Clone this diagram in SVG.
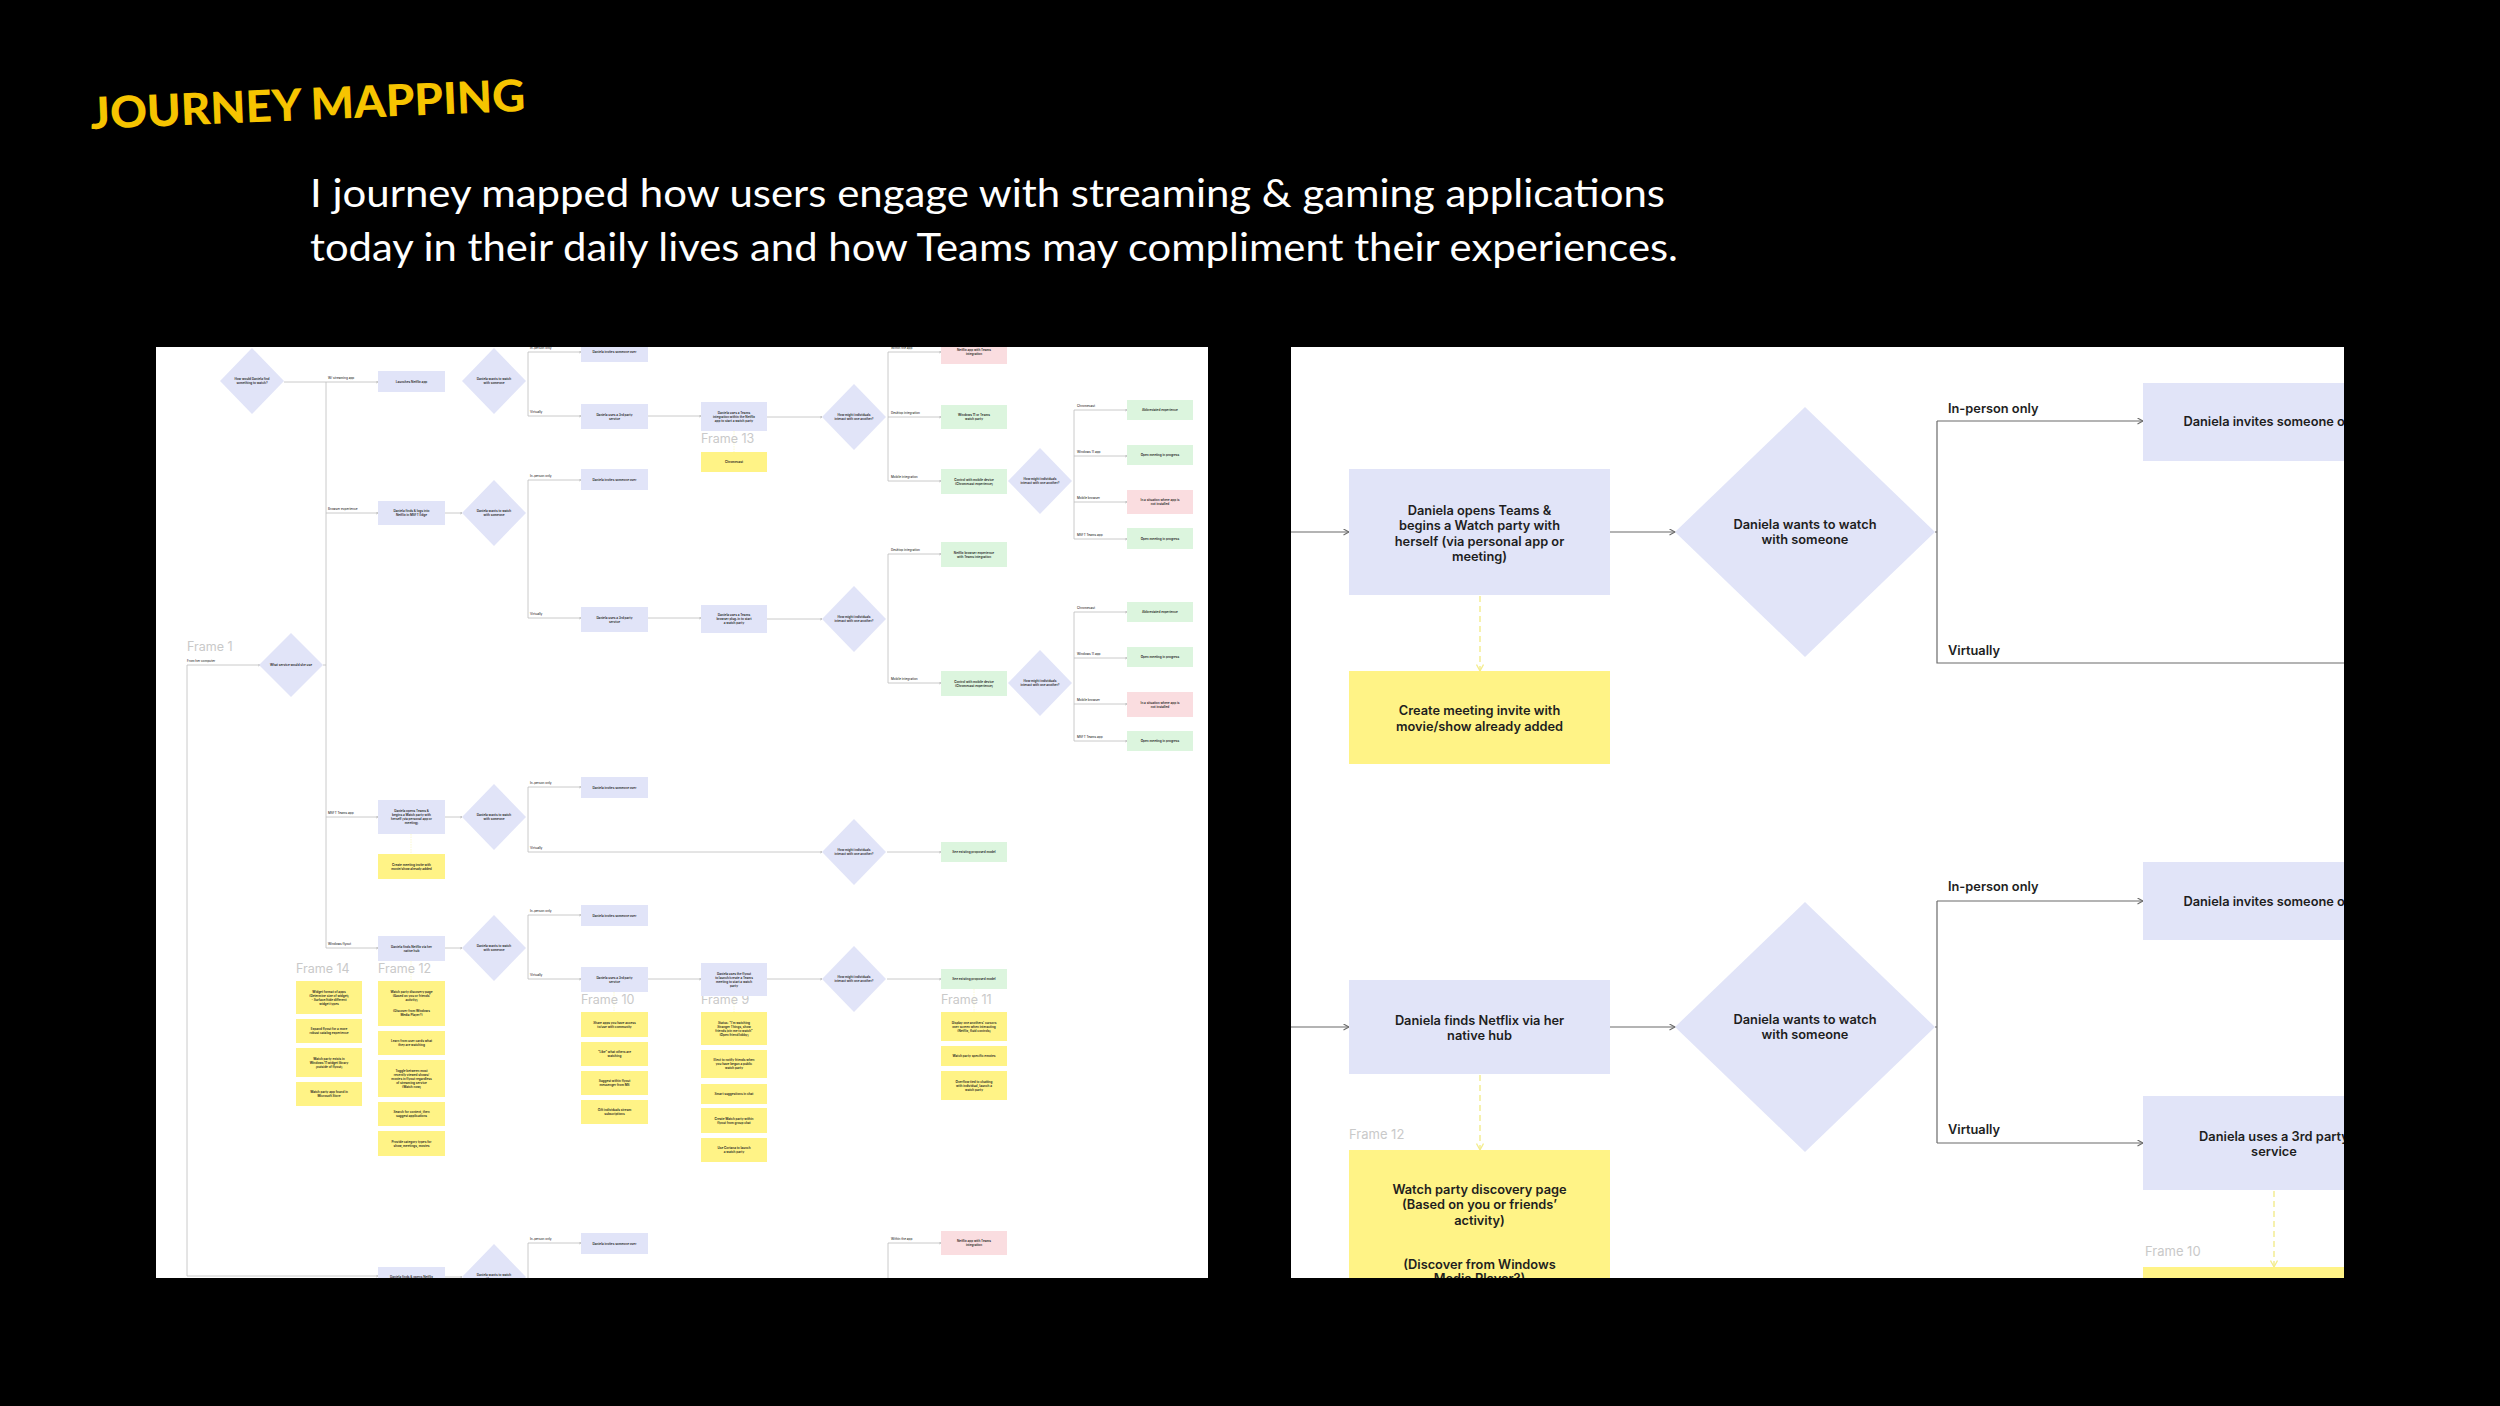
<svg xmlns="http://www.w3.org/2000/svg" width="2500" height="1406" viewBox="0 0 2500 1406">
<style>
.lav{fill:#E1E4F8}.yel{fill:#FFF386}.grn{fill:#DCF5DE}.pnk{fill:#FADDE0}
.t{font-family:Inter,"Liberation Sans",sans-serif;font-weight:600;font-size:3.1px;fill:#222;text-anchor:middle}
.tl{font-family:Inter,"Liberation Sans",sans-serif;font-weight:500;font-size:3.1px;fill:#333}
.c{fill:none;stroke:#bdbdbd;stroke-width:0.8}
.cd{fill:none;stroke:#F6F0A0;stroke-width:0.5;stroke-dasharray:1.5 1}
.fr{font-family:Inter,"Liberation Sans",sans-serif;font-size:12.5px;fill:#c9c9c9}
.T{font-family:Inter,"Liberation Sans",sans-serif;font-weight:600;font-size:12.8px;fill:#1e1e1e;text-anchor:middle}
.TL{font-family:Inter,"Liberation Sans",sans-serif;font-weight:600;font-size:12.8px;fill:#1e1e1e}
.C{fill:none;stroke:#6b6b6b;stroke-width:1.2}
.D{fill:none;stroke:#F3EC8C;stroke-width:1.4;stroke-dasharray:6 4}
</style>
<defs>
<clipPath id="cl"><rect x="156" y="347" width="1052" height="931"/></clipPath>
<clipPath id="cr"><rect x="1291" y="347" width="1053" height="931"/></clipPath>
<marker id="al" markerUnits="userSpaceOnUse" markerWidth="3" markerHeight="3" refX="2" refY="1.2" orient="auto"><path d="M0,0 L2,1.2 L0,2.4" fill="none" stroke="#999" stroke-width="0.4"/></marker>
<marker id="ar" markerUnits="userSpaceOnUse" markerWidth="8" markerHeight="8" refX="6" refY="3.5" orient="auto"><path d="M0.5,0.5 L6,3.5 L0.5,6.5" fill="none" stroke="#6b6b6b" stroke-width="1.1"/></marker>
<marker id="ay" markerUnits="userSpaceOnUse" markerWidth="10" markerHeight="8" refX="7" refY="4" orient="auto"><path d="M0.5,0.5 L7,4 L0.5,7.5" fill="none" stroke="#F3EC8C" stroke-width="1.3"/></marker>
</defs>
<rect width="2500" height="1406" fill="#000"/>
<g id="title">
<text x="91" y="129" transform="rotate(-2.4 91 129)" font-family="Lato, 'Liberation Sans', sans-serif" font-weight="900" font-size="44" fill="#F6C400" textLength="435" lengthAdjust="spacingAndGlyphs">JOURNEY MAPPING</text>
</g>
<g id="subtitle" font-family="Lato, 'Open Sans', sans-serif" font-size="39" fill="#fff">
<text x="310" y="207" textLength="1355" lengthAdjust="spacingAndGlyphs">I journey mapped how users engage with streaming &amp; gaming applications</text>
<text x="310" y="261" textLength="1368" lengthAdjust="spacingAndGlyphs">today in their daily lives and how Teams may compliment their experiences.</text>
</g>

<!-- LEFT PANEL -->
<g id="left-panel" clip-path="url(#cl)">
<rect x="156" y="347" width="1052" height="931" fill="#fff"/>
<g id="left-connectors">
<path class="c" d="M284,382H378" marker-end="url(#al)"/>
<path class="c" d="M326,382V948"/>
<path class="c" d="M326,513H378" marker-end="url(#al)"/>
<path class="c" d="M323,665H326"/>
<path class="c" d="M326,817H378" marker-end="url(#al)"/>
<path class="c" d="M326,948H378" marker-end="url(#al)"/>
<path class="c" d="M187,665H260" marker-end="url(#al)"/>
<path class="c" d="M187,665V1276H378" marker-end="url(#al)"/>
<path class="c" d="M445,513H462" marker-end="url(#al)"/>
<path class="c" d="M445,817H462" marker-end="url(#al)"/>
<path class="c" d="M445,948H462" marker-end="url(#al)"/>
<path class="c" d="M445,1277H462" marker-end="url(#al)"/>
<path class="c" d="M528,352V416"/>
<path class="c" d="M528,352H581" marker-end="url(#al)"/>
<path class="c" d="M528,416H581" marker-end="url(#al)"/>
<path class="c" d="M528,480V618"/>
<path class="c" d="M528,480H581" marker-end="url(#al)"/>
<path class="c" d="M528,618H581" marker-end="url(#al)"/>
<path class="c" d="M528,787V852"/>
<path class="c" d="M528,787H581" marker-end="url(#al)"/>
<path class="c" d="M528,852H822" marker-end="url(#al)"/>
<path class="c" d="M528,915V979"/>
<path class="c" d="M528,915H581" marker-end="url(#al)"/>
<path class="c" d="M528,979H581" marker-end="url(#al)"/>
<path class="c" d="M528,1243V1290"/>
<path class="c" d="M528,1243H581" marker-end="url(#al)"/>
<path class="c" d="M648,416H701" marker-end="url(#al)"/>
<path class="c" d="M648,618H701" marker-end="url(#al)"/>
<path class="c" d="M648,979H701" marker-end="url(#al)"/>
<path class="c" d="M767,417H822" marker-end="url(#al)"/>
<path class="c" d="M767,619H822" marker-end="url(#al)"/>
<path class="c" d="M767,979H822" marker-end="url(#al)"/>
<path class="c" d="M888,352V481"/>
<path class="c" d="M888,352H941" marker-end="url(#al)"/>
<path class="c" d="M888,417H941" marker-end="url(#al)"/>
<path class="c" d="M888,481H941" marker-end="url(#al)"/>
<path class="c" d="M888,554V683"/>
<path class="c" d="M888,554H941" marker-end="url(#al)"/>
<path class="c" d="M888,683H941" marker-end="url(#al)"/>
<path class="c" d="M1074,410V539"/>
<path class="c" d="M1074,410H1127" marker-end="url(#al)"/>
<path class="c" d="M1074,456H1127" marker-end="url(#al)"/>
<path class="c" d="M1074,502H1127" marker-end="url(#al)"/>
<path class="c" d="M1074,539H1127" marker-end="url(#al)"/>
<path class="c" d="M1074,612V741"/>
<path class="c" d="M1074,612H1127" marker-end="url(#al)"/>
<path class="c" d="M1074,658H1127" marker-end="url(#al)"/>
<path class="c" d="M1074,704H1127" marker-end="url(#al)"/>
<path class="c" d="M1074,741H1127" marker-end="url(#al)"/>
<path class="c" d="M887,852H941" marker-end="url(#al)"/>
<path class="c" d="M887,979H941" marker-end="url(#al)"/>
<path class="c" d="M888,1243V1290"/>
<path class="c" d="M888,1243H941" marker-end="url(#al)"/>
<path class="cd" d="M411,834V854"/>
<path class="cd" d="M734,431V452"/>
<path class="cd" d="M411,961V981"/>
<path class="cd" d="M614,992V1012"/>
<path class="cd" d="M734,996V1012"/>
<path class="cd" d="M974,989V1012"/>
</g>
<g id="left-labels">
<text class="tl" x="328" y="379">W/ streaming app</text>
<text class="tl" x="328" y="510">Browser experience</text>
<text class="tl" x="328" y="814">MSFT Teams app</text>
<text class="tl" x="328" y="945">Windows flyout</text>
<text class="tl" x="187" y="662">From her computer</text>
<text class="tl" x="530" y="349">In-person only</text>
<text class="tl" x="530" y="477">In-person only</text>
<text class="tl" x="530" y="784">In-person only</text>
<text class="tl" x="530" y="912">In-person only</text>
<text class="tl" x="530" y="1240">In-person only</text>
<text class="tl" x="530" y="413">Virtually</text>
<text class="tl" x="530" y="615">Virtually</text>
<text class="tl" x="530" y="849">Virtually</text>
<text class="tl" x="530" y="976">Virtually</text>
<text class="tl" x="891" y="349">Within the app</text>
<text class="tl" x="891" y="1240">Within the app</text>
<text class="tl" x="891" y="414">Desktop integration</text>
<text class="tl" x="891" y="551">Desktop integration</text>
<text class="tl" x="891" y="478">Mobile integration</text>
<text class="tl" x="891" y="680">Mobile integration</text>
<text class="tl" x="1077" y="407">Chromecast</text>
<text class="tl" x="1077" y="609">Chromecast</text>
<text class="tl" x="1077" y="453">Windows 11 app</text>
<text class="tl" x="1077" y="655">Windows 11 app</text>
<text class="tl" x="1077" y="499">Mobile browser</text>
<text class="tl" x="1077" y="701">Mobile browser</text>
<text class="tl" x="1077" y="536">MSFT Teams app</text>
<text class="tl" x="1077" y="738">MSFT Teams app</text>
<text class="fr" x="187" y="651">Frame 1</text>
<text class="fr" x="701" y="443">Frame 13</text>
<text class="fr" x="296" y="973">Frame 14</text>
<text class="fr" x="378" y="973">Frame 12</text>
<text class="fr" x="581" y="1004">Frame 10</text>
<text class="fr" x="701" y="1004">Frame 9</text>
<text class="fr" x="941" y="1004">Frame 11</text>
</g>
<!-- diamonds -->
<g id="ld1"><path class="lav" d="M220,381L252,348L284,381L252,414Z"/><text class="t"><tspan x="252" y="380.1">How would Daniela find</tspan><tspan x="252" y="384.1">something to watch?</tspan></text></g>
<g id="ld2"><path class="lav" d="M462,381L494,348L526,381L494,414Z"/><text class="t"><tspan x="494" y="380.1">Daniela wants to watch</tspan><tspan x="494" y="384.1">with someone</tspan></text></g>
<g id="ld3"><path class="lav" d="M462,513L494,480L526,513L494,546Z"/><text class="t"><tspan x="494" y="512.1">Daniela wants to watch</tspan><tspan x="494" y="516.1">with someone</tspan></text></g>
<g id="ld4"><path class="lav" d="M259,665L291,633L323,665L291,697Z"/><text class="t" x="291" y="666.1">What service would she use</text></g>
<g id="ld5"><path class="lav" d="M462,817L494,784L526,817L494,850Z"/><text class="t"><tspan x="494" y="816.1">Daniela wants to watch</tspan><tspan x="494" y="820.1">with someone</tspan></text></g>
<g id="ld6"><path class="lav" d="M462,948L494,915L526,948L494,981Z"/><text class="t"><tspan x="494" y="947.1">Daniela wants to watch</tspan><tspan x="494" y="951.1">with someone</tspan></text></g>
<g id="ld7"><path class="lav" d="M462,1277L494,1244L526,1277L494,1310Z"/><text class="t"><tspan x="494" y="1276.1">Daniela wants to watch</tspan><tspan x="494" y="1280.1">with someone</tspan></text></g>
<g id="ld8"><path class="lav" d="M822,417L854,384L886,417L854,450Z"/><text class="t"><tspan x="854" y="416.1">How might individuals</tspan><tspan x="854" y="420.1">interact with one another?</tspan></text></g>
<g id="ld9"><path class="lav" d="M1008,481L1040,448L1072,481L1040,514Z"/><text class="t"><tspan x="1040" y="480.1">How might individuals</tspan><tspan x="1040" y="484.1">interact with one another?</tspan></text></g>
<g id="ld10"><path class="lav" d="M822,619L854,586L886,619L854,652Z"/><text class="t"><tspan x="854" y="618.1">How might individuals</tspan><tspan x="854" y="622.1">interact with one another?</tspan></text></g>
<g id="ld11"><path class="lav" d="M1008,683L1040,650L1072,683L1040,716Z"/><text class="t"><tspan x="1040" y="682.1">How might individuals</tspan><tspan x="1040" y="686.1">interact with one another?</tspan></text></g>
<g id="ld12"><path class="lav" d="M822,852L854,819L886,852L854,885Z"/><text class="t"><tspan x="854" y="851.1">How might individuals</tspan><tspan x="854" y="855.1">interact with one another?</tspan></text></g>
<g id="ld13"><path class="lav" d="M822,979L854,946L886,979L854,1012Z"/><text class="t"><tspan x="854" y="978.1">How might individuals</tspan><tspan x="854" y="982.1">interact with one another?</tspan></text></g>
<!-- lavender boxes -->
<g id="lb1"><rect class="lav" x="378" y="371" width="67" height="21"/><text class="t" x="411.5" y="382.6">Launches Netflix app</text></g>
<g id="lb2"><rect class="lav" x="378" y="501" width="67" height="24"/><text class="t"><tspan x="411.5" y="512.1">Daniela finds &amp; logs into</tspan><tspan x="411.5" y="516.1">Netflix in MSFT Edge</tspan></text></g>
<g id="lb3"><rect class="lav" x="378" y="800" width="67" height="34"/><text class="t"><tspan x="411.5" y="812.1">Daniela opens Teams &amp;</tspan><tspan x="411.5" y="816.1">begins a Watch party with</tspan><tspan x="411.5" y="820.1">herself (via personal app or</tspan><tspan x="411.5" y="824.1">meeting)</tspan></text></g>
<g id="lb4"><rect class="lav" x="378" y="936" width="67" height="25"/><text class="t"><tspan x="411.5" y="947.6">Daniela finds Netflix via her</tspan><tspan x="411.5" y="951.6">native hub</tspan></text></g>
<g id="lb5"><rect class="lav" x="378" y="1267" width="67" height="25"/><text class="t" x="411.5" y="1278">Daniela finds &amp; opens Netflix</text></g>
<g id="lb6"><rect class="lav" x="581" y="341" width="67" height="21"/><text class="t" x="614.5" y="353">Daniela invites someone over</text></g>
<g id="lb7"><rect class="lav" x="581" y="469" width="67" height="21"/><text class="t" x="614.5" y="480.6">Daniela invites someone over</text></g>
<g id="lb8"><rect class="lav" x="581" y="777" width="67" height="21"/><text class="t" x="614.5" y="788.6">Daniela invites someone over</text></g>
<g id="lb9"><rect class="lav" x="581" y="905" width="67" height="21"/><text class="t" x="614.5" y="916.6">Daniela invites someone over</text></g>
<g id="lb10"><rect class="lav" x="581" y="1233" width="67" height="21"/><text class="t" x="614.5" y="1244.6">Daniela invites someone over</text></g>
<g id="lb11"><rect class="lav" x="581" y="404" width="67" height="25"/><text class="t"><tspan x="614.5" y="415.6">Daniela uses a 3rd party</tspan><tspan x="614.5" y="419.6">service</tspan></text></g>
<g id="lb12"><rect class="lav" x="581" y="607" width="67" height="25"/><text class="t"><tspan x="614.5" y="618.6">Daniela uses a 3rd party</tspan><tspan x="614.5" y="622.6">service</tspan></text></g>
<g id="lb13"><rect class="lav" x="581" y="967" width="67" height="25"/><text class="t"><tspan x="614.5" y="978.6">Daniela uses a 3rd party</tspan><tspan x="614.5" y="982.6">service</tspan></text></g>
<g id="lb14"><rect class="lav" x="701" y="402" width="66" height="29"/><text class="t"><tspan x="734" y="413.6">Daniela uses a Teams</tspan><tspan x="734" y="417.6">integration within the Netflix</tspan><tspan x="734" y="421.6">app to start a watch party</tspan></text></g>
<g id="lb15"><rect class="lav" x="701" y="605" width="66" height="28"/><text class="t"><tspan x="734" y="616.1">Daniela uses a Teams</tspan><tspan x="734" y="620.1">browser plug-in to start</tspan><tspan x="734" y="624.1">a watch party</tspan></text></g>
<g id="lb16"><rect class="lav" x="701" y="963" width="66" height="33"/><text class="t"><tspan x="734" y="974.6">Daniela uses the flyout</tspan><tspan x="734" y="978.6">to launch/create a Teams</tspan><tspan x="734" y="982.6">meeting to start a watch</tspan><tspan x="734" y="986.6">party</tspan></text></g>
<!-- green / pink -->
<g id="lg1"><rect class="pnk" x="941" y="340" width="66" height="24"/><text class="t"><tspan x="974" y="351.1">Netflix app with Teams</tspan><tspan x="974" y="355.1">integration</tspan></text></g>
<g id="lg2"><rect class="grn" x="941" y="405" width="66" height="24"/><text class="t"><tspan x="974" y="416.1">Windows 11 or Teams</tspan><tspan x="974" y="420.1">watch party</tspan></text></g>
<g id="lg3"><rect class="grn" x="941" y="469" width="66" height="25"/><text class="t"><tspan x="974" y="480.6">Control with mobile device</tspan><tspan x="974" y="484.6">(Chromecast experience)</tspan></text></g>
<g id="lg4"><rect class="grn" x="941" y="542" width="66" height="25"/><text class="t"><tspan x="974" y="553.6">Netflix browser experience</tspan><tspan x="974" y="557.6">with Teams integration</tspan></text></g>
<g id="lg5"><rect class="grn" x="941" y="671" width="66" height="25"/><text class="t"><tspan x="974" y="682.6">Control with mobile device</tspan><tspan x="974" y="686.6">(Chromecast experience)</tspan></text></g>
<g id="lg6"><rect class="grn" x="941" y="842" width="66" height="20"/><text class="t" x="974" y="853.1">See existing proposed model</text></g>
<g id="lg7"><rect class="grn" x="941" y="969" width="66" height="20"/><text class="t" x="974" y="980.1">See existing proposed model</text></g>
<g id="lg8"><rect class="pnk" x="941" y="1231" width="66" height="24"/><text class="t"><tspan x="974" y="1242.1">Netflix app with Teams</tspan><tspan x="974" y="1246.1">integration</tspan></text></g>
<g id="lg9"><rect class="grn" x="1127" y="400" width="66" height="20"/><text class="t" x="1160" y="411.1">Abbreviated experience</text></g>
<g id="lg10"><rect class="grn" x="1127" y="445" width="66" height="20"/><text class="t" x="1160" y="456.1">Open meeting in progress</text></g>
<g id="lg11"><rect class="pnk" x="1127" y="490" width="66" height="24"/><text class="t"><tspan x="1160" y="501.1">In a situation where app is</tspan><tspan x="1160" y="505.1">not installed</tspan></text></g>
<g id="lg12"><rect class="grn" x="1127" y="528" width="66" height="21"/><text class="t" x="1160" y="539.6">Open meeting in progress</text></g>
<g id="lg13"><rect class="grn" x="1127" y="602" width="66" height="20"/><text class="t" x="1160" y="613.1">Abbreviated experience</text></g>
<g id="lg14"><rect class="grn" x="1127" y="647" width="66" height="20"/><text class="t" x="1160" y="658.1">Open meeting in progress</text></g>
<g id="lg15"><rect class="pnk" x="1127" y="692" width="66" height="25"/><text class="t"><tspan x="1160" y="703.6">In a situation where app is</tspan><tspan x="1160" y="707.6">not installed</tspan></text></g>
<g id="lg16"><rect class="grn" x="1127" y="731" width="66" height="20"/><text class="t" x="1160" y="742.1">Open meeting in progress</text></g>
<!-- yellow -->
<g id="ly1"><rect class="yel" x="701" y="452" width="66" height="20"/><text class="t" x="734" y="463.1">Chromecast</text></g>
<g id="ly2"><rect class="yel" x="378" y="854" width="67" height="25"/><text class="t"><tspan x="411.5" y="865.6">Create meeting invite with</tspan><tspan x="411.5" y="869.6">movie/show already added</tspan></text></g>
<g id="ly3"><rect class="yel" x="296" y="981" width="66" height="33"/><text class="t"><tspan x="329" y="992.6">Widget format of apps</tspan><tspan x="329" y="996.6">(Determine size of widget)</tspan><tspan x="329" y="1000.6">- Surface/hide different</tspan><tspan x="329" y="1004.6">widget types</tspan></text></g>
<g id="ly4"><rect class="yel" x="296" y="1019" width="66" height="24"/><text class="t"><tspan x="329" y="1030.1">Expand flyout for a more</tspan><tspan x="329" y="1034.1">robust catalog experience</tspan></text></g>
<g id="ly5"><rect class="yel" x="296" y="1048" width="66" height="29"/><text class="t"><tspan x="329" y="1059.6">Watch party exists in</tspan><tspan x="329" y="1063.6">Windows 11 widget library</tspan><tspan x="329" y="1067.6">(outside of flyout)</tspan></text></g>
<g id="ly6"><rect class="yel" x="296" y="1082" width="66" height="24"/><text class="t"><tspan x="329" y="1093.1">Watch party app found in</tspan><tspan x="329" y="1097.1">Microsoft Store</tspan></text></g>
<g id="ly7"><rect class="yel" x="378" y="981" width="67" height="45"/><text class="t"><tspan x="411.5" y="993">Watch party discovery page</tspan><tspan x="411.5" y="997">(Based on you or friends’</tspan><tspan x="411.5" y="1001">activity)</tspan><tspan x="411.5" y="1012">(Discover from Windows</tspan><tspan x="411.5" y="1016">Media Player?)</tspan></text></g>
<g id="ly8"><rect class="yel" x="378" y="1031" width="67" height="24"/><text class="t"><tspan x="411.5" y="1042.1">Learn from user cards what</tspan><tspan x="411.5" y="1046.1">they are watching</tspan></text></g>
<g id="ly9"><rect class="yel" x="378" y="1060" width="67" height="37"/><text class="t"><tspan x="411.5" y="1071.6">Toggle between most</tspan><tspan x="411.5" y="1075.6">recently viewed shows/</tspan><tspan x="411.5" y="1079.6">movies in flyout regardless</tspan><tspan x="411.5" y="1083.6">of streaming service</tspan><tspan x="411.5" y="1087.6">(Watch now)</tspan></text></g>
<g id="ly10"><rect class="yel" x="378" y="1102" width="67" height="24"/><text class="t"><tspan x="411.5" y="1113.1">Search for content, then</tspan><tspan x="411.5" y="1117.1">suggest applications</tspan></text></g>
<g id="ly11"><rect class="yel" x="378" y="1131" width="67" height="25"/><text class="t"><tspan x="411.5" y="1142.6">Provide category types for</tspan><tspan x="411.5" y="1146.6">show, meetings, movies</tspan></text></g>
<g id="ly12"><rect class="yel" x="581" y="1012" width="67" height="25"/><text class="t"><tspan x="614.5" y="1023.6">Share apps you have access</tspan><tspan x="614.5" y="1027.6">to/use with community</tspan></text></g>
<g id="ly13"><rect class="yel" x="581" y="1042" width="67" height="24"/><text class="t"><tspan x="614.5" y="1053.1">“Like” what others are</tspan><tspan x="614.5" y="1057.1">watching</tspan></text></g>
<g id="ly14"><rect class="yel" x="581" y="1071" width="67" height="24"/><text class="t"><tspan x="614.5" y="1082.1">Suggest within flyout</tspan><tspan x="614.5" y="1086.1">messenger from MS</tspan></text></g>
<g id="ly15"><rect class="yel" x="581" y="1100" width="67" height="24"/><text class="t"><tspan x="614.5" y="1111.1">Gift individuals stream</tspan><tspan x="614.5" y="1115.1">subscriptions</tspan></text></g>
<g id="ly16"><rect class="yel" x="701" y="1012" width="66" height="33"/><text class="t"><tspan x="734" y="1023.6">Status: “I'm watching</tspan><tspan x="734" y="1027.6">Stranger Things, show</tspan><tspan x="734" y="1031.6">friends join me to watch”</tspan><tspan x="734" y="1035.6">(Open friend lobby)</tspan></text></g>
<g id="ly17"><rect class="yel" x="701" y="1050" width="66" height="28"/><text class="t"><tspan x="734" y="1061.1">Elect to notify friends when</tspan><tspan x="734" y="1065.1">you have begun a public</tspan><tspan x="734" y="1069.1">watch party</tspan></text></g>
<g id="ly18"><rect class="yel" x="701" y="1084" width="66" height="20"/><text class="t" x="734" y="1095.1">Smart suggestions in chat</text></g>
<g id="ly19"><rect class="yel" x="701" y="1108" width="66" height="25"/><text class="t"><tspan x="734" y="1119.6">Create Watch party within</tspan><tspan x="734" y="1123.6">flyout from group chat</tspan></text></g>
<g id="ly20"><rect class="yel" x="701" y="1138" width="66" height="24"/><text class="t"><tspan x="734" y="1149.1">Use Cortana to launch</tspan><tspan x="734" y="1153.1">a watch party</tspan></text></g>
<g id="ly21"><rect class="yel" x="941" y="1012" width="66" height="29"/><text class="t"><tspan x="974" y="1023.6">Display one anothers' cursors</tspan><tspan x="974" y="1027.6">over screen when interacting</tspan><tspan x="974" y="1031.6">(Netflix, fluid controls)</tspan></text></g>
<g id="ly22"><rect class="yel" x="941" y="1046" width="66" height="20"/><text class="t" x="974" y="1057.1">Watch party specific emotes</text></g>
<g id="ly23"><rect class="yel" x="941" y="1071" width="66" height="29"/><text class="t"><tspan x="974" y="1082.6">Overflow tied to chatting</tspan><tspan x="974" y="1086.6">with individual, launch a</tspan><tspan x="974" y="1090.6">watch party</tspan></text></g>
</g>

<!-- RIGHT PANEL -->
<g id="right-panel" clip-path="url(#cr)">
<rect x="1291" y="347" width="1053" height="931" fill="#fff"/>
<g id="right-connectors">
<path class="C" d="M1291,532H1349" marker-end="url(#ar)"/>
<path class="C" d="M1610,532H1675" marker-end="url(#ar)"/>
<path class="C" d="M1935,532H1937M1937,421V663H2344"/>
<path class="C" d="M1937,421H2143" marker-end="url(#ar)"/>
<path class="D" d="M1480,596V671" marker-end="url(#ay)"/>
<path class="C" d="M1291,1027H1349" marker-end="url(#ar)"/>
<path class="C" d="M1610,1027H1675" marker-end="url(#ar)"/>
<path class="C" d="M1935,1027H1937M1937,901V1143"/>
<path class="C" d="M1937,901H2143" marker-end="url(#ar)"/>
<path class="C" d="M1937,1143H2143" marker-end="url(#ar)"/>
<path class="D" d="M1480,1075V1150" marker-end="url(#ay)"/>
<path class="D" d="M2274,1191V1267" marker-end="url(#ay)"/>
<text class="TL" x="1948" y="413">In-person only</text>
<text class="TL" x="1948" y="655">Virtually</text>
<text class="TL" x="1948" y="891">In-person only</text>
<text class="TL" x="1948" y="1134">Virtually</text>
</g>
<g id="rA"><rect class="lav" x="1349" y="469" width="261" height="126"/><text class="T"><tspan x="1479.5" y="514.5">Daniela opens Teams &amp;</tspan><tspan x="1479.5" y="530">begins a Watch party with</tspan><tspan x="1479.5" y="545.5">herself (via personal app or</tspan><tspan x="1479.5" y="561">meeting)</tspan></text></g>
<g id="rB"><path class="lav" d="M1675,532L1805,407L1935,532L1805,657Z"/><text class="T"><tspan x="1805" y="528.5">Daniela wants to watch</tspan><tspan x="1805" y="544">with someone</tspan></text></g>
<g id="rC"><rect class="lav" x="2143" y="383" width="262" height="78"/><text class="T" x="2274" y="426">Daniela invites someone over</text></g>
<g id="rD"><rect class="yel" x="1349" y="671" width="261" height="93"/><text class="T"><tspan x="1479.5" y="715">Create meeting invite with</tspan><tspan x="1479.5" y="730.5">movie/show already added</tspan></text></g>
<g id="rE"><rect class="lav" x="1349" y="980" width="261" height="94"/><text class="T"><tspan x="1479.5" y="1024.5">Daniela finds Netflix via her</tspan><tspan x="1479.5" y="1040">native hub</tspan></text></g>
<g id="rF"><path class="lav" d="M1675,1027L1805,902L1935,1027L1805,1152Z"/><text class="T"><tspan x="1805" y="1023.5">Daniela wants to watch</tspan><tspan x="1805" y="1039">with someone</tspan></text></g>
<g id="rG"><rect class="lav" x="2143" y="862" width="262" height="78"/><text class="T" x="2274" y="905.5">Daniela invites someone over</text></g>
<g id="rH"><rect class="lav" x="2143" y="1096" width="262" height="94"/><text class="T"><tspan x="2274" y="1140.5">Daniela uses a 3rd party</tspan><tspan x="2274" y="1156">service</tspan></text></g>
<g id="rI"><text x="1349" y="1139" font-family="Inter, 'Liberation Sans', sans-serif" font-size="13" fill="#c9c9c9">Frame 12</text><rect class="yel" x="1349" y="1150" width="261" height="200"/><text class="T"><tspan x="1479.5" y="1193.5">Watch party discovery page</tspan><tspan x="1479.5" y="1209">(Based on you or friends’</tspan><tspan x="1479.5" y="1225">activity)</tspan><tspan x="1479.5" y="1268.5">(Discover from Windows</tspan><tspan x="1479.5" y="1283">Media Player?)</tspan></text></g>
<g id="rJ"><text x="2145" y="1256" font-family="Inter, 'Liberation Sans', sans-serif" font-size="13" fill="#c9c9c9">Frame 10</text><rect class="yel" x="2143" y="1267" width="262" height="100"/></g>
</g>
</svg>
